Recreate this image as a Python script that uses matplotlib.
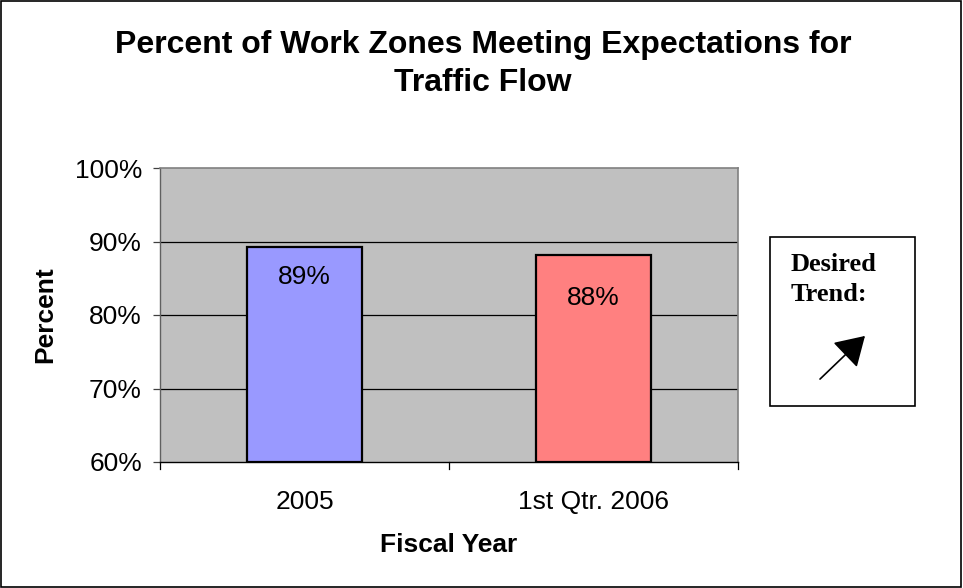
import matplotlib
matplotlib.use("Agg")
import matplotlib.pyplot as plt
from matplotlib.patches import Rectangle, FancyArrowPatch

categories = ["2005", "1st Qtr. 2006"]
values = [89.3, 88.1]
labels = ["89%", "88%"]
yticks = [60, 70, 80, 90, 100]
ytick_labels = ["60%", "70%", "80%", "90%", "100%"]

colors = ["#9999FF", "#FF8080"]
label_offsets = [-30, -43]  # px below bar top

plt.rcParams['font.family'] = ['Liberation Sans', 'DejaVu Sans']
FS = 19

fig = plt.figure(figsize=(9.63, 5.88), dpi=100)
fig.patch.set_facecolor("white")
fig.add_artist(Rectangle((0.001, 0.002), 0.997, 0.996, transform=fig.transFigure,
                         fill=False, edgecolor="black", linewidth=1.2))

ax = fig.add_axes([160/963, 1-462/588, (738-160)/963, (462-168)/588])
ax.set_facecolor("#C0C0C0")
ax.set_xlim(-0.5, 1.5)
ax.set_ylim(60, 100)
ax.set_yticks(yticks)
ax.set_yticklabels(ytick_labels, fontsize=FS)
for y in yticks[1:-1]:
    ax.axhline(y, color="black", linewidth=0.9, zorder=1)

x = range(len(categories))
bars = ax.bar(x, [v - 60 for v in values], bottom=60, width=0.4, color=colors,
              edgecolor="black", linewidth=1.6, zorder=2)
for xi, v, lab, off in zip(x, values, labels, label_offsets):
    ax.annotate(lab, (xi, v), xytext=(0, off * 0.72), textcoords="offset points",
                ha="center", va="center", fontsize=FS, zorder=3)

ax.set_xticks([0, 1])
ax.set_xticklabels(categories, fontsize=FS)
ax.tick_params(axis="x", length=0, pad=20)
for xb in [-0.5, 0.5, 1.5]:
    ax.plot([xb, xb], [0, -0.025], transform=ax.get_xaxis_transform(), color="black",
            linewidth=0.9, clip_on=False)
ax.tick_params(axis="y", length=5, width=0.9, direction="out", pad=8, color="#404040")

for s in ["top", "right"]:
    ax.spines[s].set_color("#808080")
    ax.spines[s].set_linewidth(1.2)
ax.spines["left"].set_color("#606060")
ax.spines["left"].set_linewidth(1.0)
ax.spines["bottom"].set_color("black")
ax.spines["bottom"].set_linewidth(1.0)

fig.text(45/963, 1-315/588, "Percent", rotation=90, ha="center", va="center",
         fontsize=FS, fontweight="bold")
fig.text(449/963, 1-545/588, "Fiscal Year", ha="center", va="center",
         fontsize=FS, fontweight="bold")

fig.text(483/963, 1-45/588, "Percent of Work Zones Meeting Expectations for",
         ha="center", va="center", fontsize=23, fontweight="bold")
fig.text(483/963, 1-83/588, "Traffic Flow",
         ha="center", va="center", fontsize=23, fontweight="bold")

# Desired trend box
fig.add_artist(Rectangle((770/963, 1-406/588), 145/963, 169/588, transform=fig.transFigure,
                         fill=False, edgecolor="black", linewidth=1.2))
fig.text(791/963, 1-264/588, "Desired", ha="left", va="center", fontsize=19,
         fontweight="bold", family=["Liberation Serif"])
fig.text(791/963, 1-295/588, "Trend:", ha="left", va="center", fontsize=19,
         fontweight="bold", family=["Liberation Serif"])
fig.add_artist(FancyArrowPatch((818/963, 1-381/588), (867/963, 1-334/588),
                               transform=fig.transFigure, arrowstyle="-|>,head_length=9,head_width=5.5",
                               color="black", linewidth=1.2, mutation_scale=2))

fig.savefig("out.png", dpi=100)
